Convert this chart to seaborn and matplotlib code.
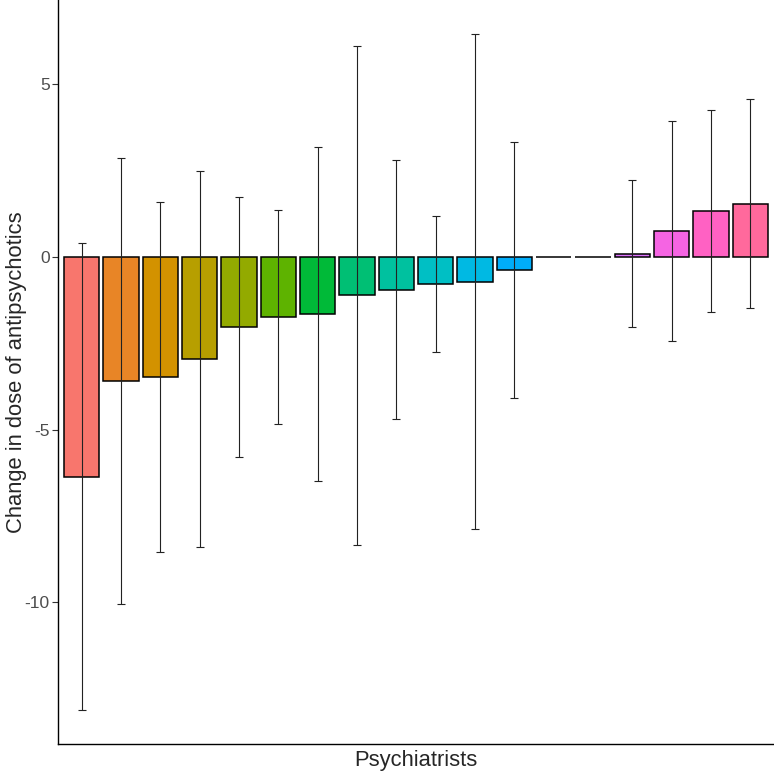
import matplotlib
matplotlib.use("Agg")
import matplotlib.pyplot as plt
import numpy as np
import pandas as pd
import seaborn as sns

# Data
psychiatrists = ["P%d" % i for i in range(1, 19)]
change = [-6.38, -3.59, -3.47, -2.95, -2.03, -1.74, -1.67, -1.12, -0.95,
          -0.79, -0.72, -0.39, 0.0, 0.0, 0.08, 0.75, 1.33, 1.54]
err_low = [-13.12, -10.04, -8.54, -8.40, -5.78, -4.84, -6.50, -8.34, -4.70,
           -2.76, -7.88, -4.09, np.nan, np.nan, -2.04, -2.45, -1.59, -1.49]
err_high = [0.40, 2.86, 1.59, 2.49, 1.73, 1.36, 3.18, 6.11, 2.79,
            1.18, 6.45, 3.31, np.nan, np.nan, 2.22, 3.94, 4.24, 4.55]


def hue_pal(n, c=100, l=65):
    # ggplot2 default hue palette (polar LUV -> sRGB)
    hues = np.linspace(15, 375, n + 1)[:-1]
    xn, yn, zn = 95.047, 100.0, 108.883
    un = 4 * xn / (xn + 15 * yn + 3 * zn)
    vn = 9 * yn / (xn + 15 * yn + 3 * zn)
    out = []
    for h in hues:
        u = c * np.cos(np.radians(h))
        v = c * np.sin(np.radians(h))
        Y = yn * ((l + 16) / 116) ** 3
        up = u / (13 * l) + un
        vp = v / (13 * l) + vn
        X = Y * 9 * up / (4 * vp)
        Z = Y * (12 - 3 * up - 20 * vp) / (4 * vp)
        xyz = np.array([X, Y, Z]) / 100
        m = np.array([[3.2404542, -1.5371385, -0.4985314],
                      [-0.9692660, 1.8760108, 0.0415560],
                      [0.0556434, -0.2040259, 1.0572252]])
        rgb = m @ xyz
        rgb = np.where(rgb <= 0.0031308, 12.92 * rgb,
                       1.055 * np.abs(rgb) ** (1 / 2.4) - 0.055)
        out.append(tuple(np.clip(rgb, 0, 1)))
    return out


df = pd.DataFrame({"psychiatrist": psychiatrists, "change": change,
                   "low": err_low, "high": err_high})

sns.set_style("white")
plt.rcParams["font.family"] = ["Liberation Sans", "DejaVu Sans"]

fig = plt.figure(figsize=(7.74, 7.74), dpi=100)
ax = fig.add_axes([58 / 774, 30 / 774, 1 - 58 / 774, 744 / 774])

sns.barplot(data=df, x="psychiatrist", y="change", hue="psychiatrist",
            order=psychiatrists, palette=hue_pal(len(psychiatrists)),
            saturation=1, edgecolor="black", linewidth=1.1, width=0.9,
            legend=False, ax=ax)

xpos = np.arange(len(df))
yerr = np.vstack([df["change"] - df["low"], df["high"] - df["change"]])
ax.errorbar(xpos, df["change"], yerr=yerr, fmt="none", ecolor="#222222",
            elinewidth=0.8, capsize=2.9, capthick=0.8, zorder=5)

lo = min(np.nanmin(err_low), min(change))
hi = max(np.nanmax(err_high), max(change))
pad = (hi - lo) * 0.05
ax.set_ylim(lo - pad, hi + pad)
ax.set_xlim(-0.6, len(df) - 0.4)

ax.set_yticks([-10, -5, 0, 5])
ax.set_yticklabels(["-10", "-5", "0", "5"])
ax.set_xticks([])
ax.tick_params(axis="y", length=4, width=0.8, color="#333333",
               labelsize=12.5, labelcolor="#4D4D4D", pad=2, left=True)

for side in ["top", "right"]:
    ax.spines[side].set_visible(False)
for side in ["left", "bottom"]:
    ax.spines[side].set_color("black")
    ax.spines[side].set_linewidth(1.0)

ax.set_xlabel("Psychiatrists", fontsize=15.8, labelpad=4)
ax.set_ylabel("Change in dose of antipsychotics", fontsize=15.8)
ax.yaxis.set_label_coords(-0.043, 0.5)

fig.savefig("out.png", dpi=100)
